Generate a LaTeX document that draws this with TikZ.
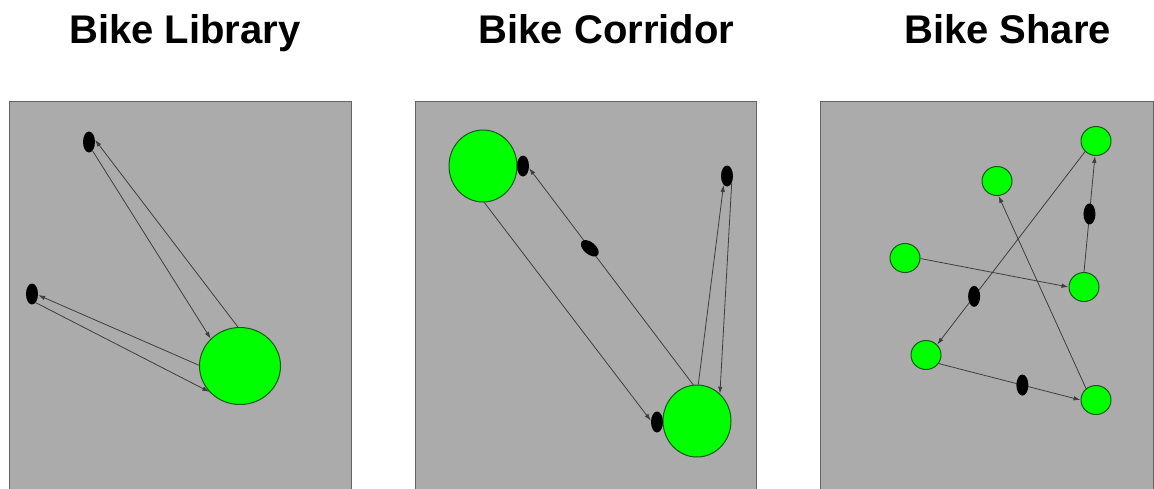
\documentclass[tikz,border=0pt]{standalone}
\usepackage{fontspec}
\setmainfont{Liberation Sans}
\usetikzlibrary{arrows.meta,shapes.geometric}
\definecolor{panelfill}{RGB}{171,171,171}
\definecolor{panelline}{RGB}{100,100,100}
\definecolor{edgecol}{RGB}{62,62,62}
\definecolor{hubfill}{RGB}{0,255,0}
\definecolor{hubline}{RGB}{22,88,22}
\begin{document}
\begin{tikzpicture}[x=1pt,y=-1pt,
  panel/.style={fill=panelfill,draw=panelline,line width=1pt},
  title/.style={font=\bfseries\fontsize{40}{44}\selectfont,anchor=base,inner sep=0pt},
  hub/.style={ellipse,draw=hubline,fill=hubfill,line width=1pt,inner sep=0pt},
  dot/.style={ellipse,fill=black,inner sep=0pt,minimum width=12pt,minimum height=21pt},
  link/.style={draw=edgecol,line width=0.8pt,-{Latex[length=7pt,width=4.5pt]}}]
\useasboundingbox (0,0) rectangle (1154,488);
\clip (0,0) rectangle (1154,488);

% titles
\node[title] (t1) at (185,43.5) {Bike Library};
\node[title] (t2) at (606.5,43.5) {Bike Corridor};
\node[title] (t3) at (1007.5,43.5) {Bike Share};

% panel backgrounds
\draw[panel] (9.5,101.5) rectangle (351,495);
\draw[panel] (415,101.5) rectangle (756.5,495);
\draw[panel] (820,101.5) rectangle (1153,495);

% Bike Library
\node[hub,minimum width=81pt,minimum height=77pt] (L) at (240,366) {};
\node[dot] (La) at (89,142) {};
\node[dot] (Lb) at (32,294) {};
\draw[link] (L.93) -- (La.20);
\draw[link] (La.-68) -- (L.137);
\draw[link] (L.179) -- (Lb.-10);
\draw[link] (Lb.-67) -- (L.220);

% Bike Corridor
\node[hub,minimum width=68pt,minimum height=72pt] (CA) at (483,166) {};
\node[hub,minimum width=68pt,minimum height=72pt] (CF) at (697,421) {};
\node[dot] (CB) at (523,166) {};
\node[dot] (CD) at (727,176) {};
\node[dot] (CE) at (657,422) {};
\draw[link] (CA.-88) -- (CE.168);
\draw[link] (CF.96) -- node[dot,pos=0.63,rotate=50] (CC) {} (CB.-19);
\draw[link] (CF.88) -- (CD.-111);
\draw[link] (CD.-56) -- (CF.50);

% Bike Share
\foreach \n/\p in {S1/{(1096,141)},S2/{(997,181)},S3/{(905,258)},S4/{(1084,287)},S5/{(926,355)},S6/{(1096,400)}}
  \node[hub,minimum width=30pt,minimum height=29pt] (\n) at \p {};
\draw[link] (S1.-136) -- node[dot,pos=0.75] (Sb) {} (S5.43);
\draw[link] (S3.-2) -- (S4.180);
\draw[link] (S4.90) -- node[dot,pos=0.5] (Sa) {} (S1.-94);
\draw[link] (S5.-34) -- node[dot,pos=0.59] (Sc) {} (S6.180);
\draw[link] (S6.131) -- (S2.-84);
\end{tikzpicture}
\end{document}
